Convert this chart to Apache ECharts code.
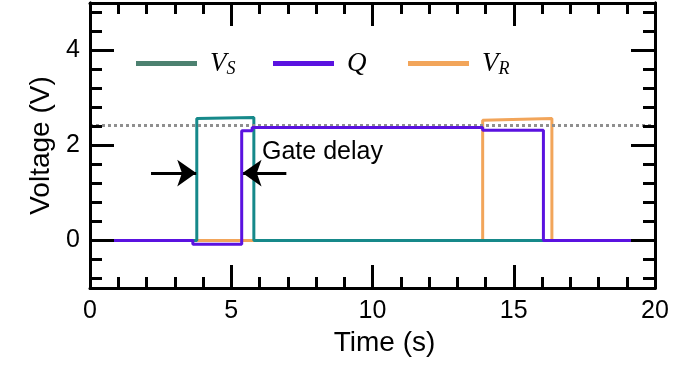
<!DOCTYPE html>
<html>
<head>
<meta charset="utf-8">
<script src="https://cdn.jsdelivr.net/npm/echarts@6/dist/echarts.min.js"></script>
<style>html,body{margin:0;padding:0;background:#fff;}#c{width:675px;height:366px;}</style>
</head>
<body>
<div id="c"></div>
<script>
// ---- data ----
const vsTime = [0, 3.78, 3.78, 5.8, 5.8, 20];
const vsVolt = [0, 0, 2.57, 2.59, 0, 0];
const qTime  = [0, 3.64, 3.64, 5.37, 5.37, 5.74, 5.74, 13.9, 13.9, 16.05, 16.05, 20];
const qVolt  = [0, 0, -0.08, -0.08, 2.31, 2.31, 2.38, 2.38, 2.32, 2.32, 0, 0];
const vrTime = [0, 13.9, 13.9, 16.35, 16.35, 20];
const vrVolt = [0, 0, 2.53, 2.57, 0, 0];
const thresholdV = 2.42;
const yMajorTicks = [0, 2, 4];
const yMinorTicks = [-0.8, -0.4, 0.4, 0.8, 1.2, 1.6, 2.4, 2.8, 3.2, 3.6, 4.4, 4.8];
const arrowLeft  = [[2.16, 1.42], [3.76, 1.42]];
const arrowRight = [[6.95, 1.42], [5.4, 1.42]];

const zip = (t, v) => t.map((x, i) => [x, v[i]]);
const chart = echarts.init(document.getElementById('c'));
const font = 'Liberation Sans, Arial, sans-serif';
const axisLine = {show: true, onZero: false, lineStyle: {color: '#000', width: 3}};
function yAx(pos, ticks, len, labels) {
  return {
    type: 'value', position: pos, min: -1, max: 5, z: 10,
    axisLine: axisLine,
    splitLine: {show: false},
    axisTick: {show: true, inside: true, length: len, customValues: ticks, lineStyle: {color: '#000', width: 3}},
    axisLabel: labels ? {show: true, customValues: yMajorTicks, color: '#000', fontSize: 25, fontFamily: font, margin: 10} : {show: false},
    name: labels ? 'Voltage (V)' : '', nameLocation: 'middle', nameGap: 33,
    nameTextStyle: {color: '#000', fontSize: 28, fontFamily: font}
  };
}
function xAx(pos, labels) {
  return {
    type: 'value', position: pos, min: 0, max: 20, interval: 5, z: 10,
    axisLine: axisLine,
    splitLine: {show: false},
    axisTick: {show: true, inside: true, length: 23, lineStyle: {color: '#000', width: 3}},
    minorTick: {show: true, splitNumber: 5, length: 11, lineStyle: {color: '#000', width: 3}},
    axisLabel: labels ? {show: true, color: '#000', fontSize: 25, fontFamily: font, margin: 11} : {show: false},
    name: labels ? 'Time (s)' : '', nameLocation: 'middle', nameGap: 41,
    nameTextStyle: {color: '#000', fontSize: 28, fontFamily: font, padding: [0, 0, 0, 24]}
  };
}
const rich = {
  v: {fontFamily: 'Liberation Serif, serif', fontStyle: 'italic', fontSize: 27, color: '#000'},
  s: {fontFamily: 'Liberation Serif, serif', fontStyle: 'italic', fontSize: 18, color: '#000', verticalAlign: 'bottom', padding: [12, 0, 0, 0]}
};
function leg(name, left, color, label) {
  return {
    left: left, top: 45, icon: 'rect', itemWidth: 61, itemHeight: 5, itemGap: 0,
    data: [{name: name, itemStyle: {color: color}}],
    formatter: () => label,
    textStyle: {rich: rich, padding: [0, 0, 0, 8]}
  };
}
chart.setOption({
  animation: false,
  grid: {left: 90, right: 20, top: 3, bottom: 78},
  legend: [
    leg('VS', 131, '#4c8170', '{v|V}{s|S}'),
    leg('Q', 268, '#5a12e0', '{v|Q}'),
    leg('VR', 403, '#f2a55a', '{v|V}{s|R}')
  ],
  xAxis: [xAx('bottom', true), xAx('top', false)],
  yAxis: [yAx('left', yMajorTicks, 24, true), yAx('left', yMinorTicks, 12, false),
          yAx('right', yMajorTicks, 24, false), yAx('right', yMinorTicks, 12, false)],
  graphic: [{type: 'text', left: 262, top: 140, z: 20,
    style: {text: 'Gate delay', fontSize: 25, fontFamily: font, fill: '#000'}}],
  series: [
    {name: 'VS', type: 'line', data: zip(vsTime, vsVolt), showSymbol: false, z: 3,
     lineStyle: {color: '#16898a', width: 3}, itemStyle: {color: '#4c8170'},
     markLine: {silent: true, symbol: ['none', 'none'], label: {show: false},
       lineStyle: {color: '#8f8f8f', type: [3, 3], width: 3},
       data: [{yAxis: thresholdV}]}},
    {name: 'Q', type: 'line', data: zip(qTime, qVolt), showSymbol: false, z: 5,
     lineStyle: {color: '#5a12e0', width: 3}, itemStyle: {color: '#5a12e0'},
     markLine: {silent: true, symbol: ['none', 'arrow'], symbolSize: [20, 19], label: {show: false},
       lineStyle: {color: '#000', type: 'solid', width: 3},
       data: [[{coord: arrowLeft[0]}, {coord: arrowLeft[1]}], [{coord: arrowRight[0]}, {coord: arrowRight[1]}]]}},
    {name: 'VR', type: 'line', data: zip(vrTime, vrVolt), showSymbol: false, z: 2,
     lineStyle: {color: '#f2a55a', width: 3}, itemStyle: {color: '#f2a55a'}}
  ]
});
</script>
</body>
</html>
